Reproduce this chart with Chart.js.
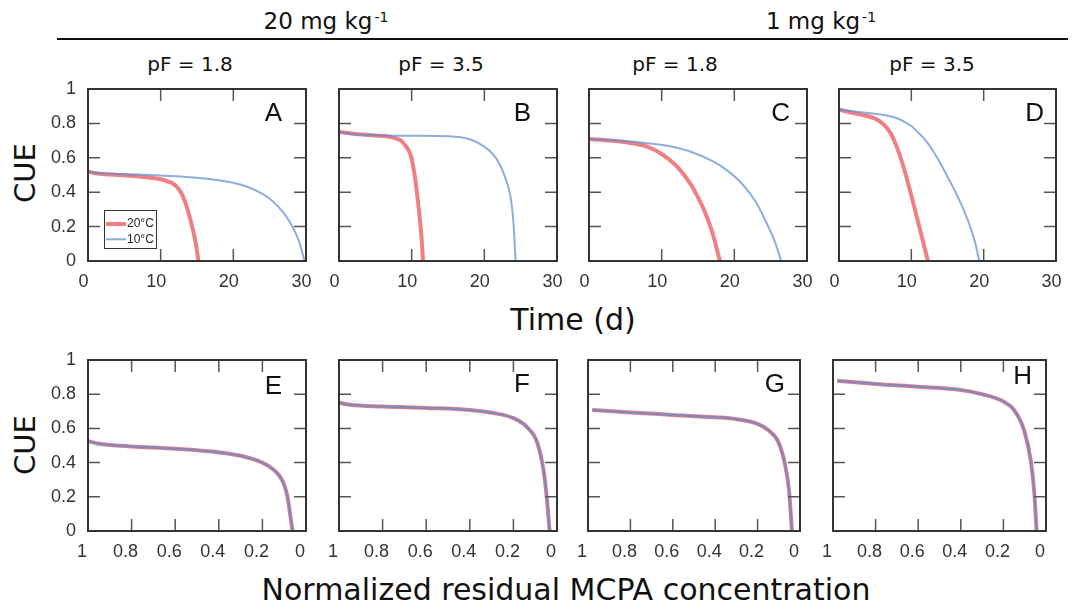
<!DOCTYPE html>
<html>
<head>
<meta charset="utf-8">
<script src="https://cdn.jsdelivr.net/npm/chart.js@4.4.1/dist/chart.umd.min.js"></script>
<style>
  body { margin: 0; background: #fff; }
  #fig { position: relative; width: 1075px; height: 610px; background: #fff; overflow: hidden;
         font-family: "DejaVu Sans", sans-serif; color: #111; }
  .txt { position: absolute; white-space: nowrap; line-height: 1; transform: translateX(-50%); }
  .rot { position: absolute; white-space: nowrap; line-height: 1; transform: translate(-50%, -50%) rotate(-90deg); }
  .sup { font-size: 14px; position: relative; top: -7px; margin-left: 2px; }
  canvas { position: absolute; }
</style>
</head>
<body>
<div id="fig">
  <div class="txt" style="left:326px; top:10px; font-size:23px;">20 mg kg<span class="sup">-1</span></div>
  <div class="txt" style="left:821px; top:10px; font-size:23px;">1 mg kg<span class="sup">-1</span></div>
  <div style="position:absolute; left:57px; top:38px; width:1011px; height:2px; background:#111;"></div>

  <div class="txt" style="left:190px; top:54px; font-size:20px;">pF = 1.8</div>
  <div class="txt" style="left:441px; top:54px; font-size:20px;">pF = 3.5</div>
  <div class="txt" style="left:675px; top:54px; font-size:20px;">pF = 1.8</div>
  <div class="txt" style="left:932px; top:54px; font-size:20px;">pF = 3.5</div>

  <div class="txt" style="left:573px; top:305px; font-size:30px;">Time (d)</div>
  <div class="txt" style="left:566px; top:575px; font-size:30px;">Normalized residual MCPA concentration</div>
  <div class="rot" style="left:25px; top:173px; font-size:29px;">CUE</div>
  <div class="rot" style="left:25px; top:445px; font-size:29px;">CUE</div>
</div>

<script>
// tick labels
const cueTicks = [0, 0.2, 0.4, 0.6, 0.8, 1];
const timeTicks = [0, 10, 20, 30];
const concTicks = [1, 0.8, 0.6, 0.4, 0.2, 0];
const seriesNames = ['20°C', '10°C'];

// top row: CUE over time (d)
const tA20 = [0, 1, 3, 6, 8, 10, 11, 11.6, 12.2, 12.8, 13.3, 13.8, 14.3, 14.8, 15.2];
const cueA20 = [0.52, 0.51, 0.503, 0.495, 0.487, 0.475, 0.462, 0.452, 0.432, 0.398, 0.35, 0.285, 0.205, 0.11, 0];
const tA10 = [0, 2, 5, 10, 14, 17, 20, 22, 24, 25.5, 27, 28, 29, 29.8];
const cueA10 = [0.52, 0.51, 0.505, 0.497, 0.487, 0.475, 0.455, 0.43, 0.39, 0.345, 0.275, 0.21, 0.12, 0];

const tB20 = [0, 2, 5, 7, 8, 8.6, 9.0, 9.5, 9.9, 10.2, 10.5, 10.8, 11.1, 11.35, 11.56];
const cueB20 = [0.75, 0.74, 0.73, 0.722, 0.71, 0.698, 0.678, 0.649, 0.61, 0.552, 0.474, 0.37, 0.255, 0.14, 0];
const tB10 = [0, 2, 6, 10, 15, 18, 20, 21.2, 22, 22.8, 23.5, 23.85, 24.1, 24.3];
const cueB10 = [0.75, 0.737, 0.73, 0.728, 0.725, 0.708, 0.665, 0.62, 0.571, 0.493, 0.396, 0.298, 0.162, 0];

const tC20 = [0, 3, 5, 8, 10, 12, 14, 15, 16, 17, 17.5, 18.0];
const cueC20 = [0.71, 0.70, 0.69, 0.665, 0.622, 0.554, 0.446, 0.37, 0.28, 0.162, 0.085, 0];
const tC10 = [0, 4, 8, 11, 14, 17, 19, 21, 23, 24.5, 25.6, 26.45];
const cueC10 = [0.71, 0.70, 0.685, 0.668, 0.635, 0.58, 0.527, 0.452, 0.34, 0.215, 0.11, 0];

const tD20 = [0, 1.5, 3, 5, 6, 7, 8, 9, 10, 11, 12.3];
const cueD20 = [0.88, 0.865, 0.851, 0.828, 0.80, 0.752, 0.662, 0.535, 0.38, 0.215, 0];
const tD10 = [0, 3, 6, 8, 9, 10, 11, 12, 13, 14, 15, 16, 17, 18, 18.8, 19.4];
const cueD10 = [0.88, 0.865, 0.85, 0.83, 0.81, 0.785, 0.745, 0.70, 0.64, 0.57, 0.49, 0.41, 0.32, 0.215, 0.11, 0];

// bottom row: CUE over normalized residual concentration (both temperatures coincide)
const concE = [1, 0.95, 0.9, 0.8, 0.6, 0.4, 0.3, 0.2, 0.15, 0.12, 0.1, 0.085, 0.073, 0.062];
const cueE = [0.525, 0.51, 0.503, 0.494, 0.481, 0.46, 0.44, 0.40, 0.36, 0.32, 0.27, 0.2, 0.1, 0];
const concF = [1, 0.95, 0.8, 0.6, 0.4, 0.29, 0.2, 0.14, 0.09, 0.06, 0.046, 0.034];
const cueF = [0.75, 0.738, 0.728, 0.72, 0.708, 0.69, 0.66, 0.61, 0.514, 0.34, 0.184, 0];
const concG = [0.98, 0.8, 0.6, 0.4, 0.3, 0.2, 0.15, 0.103, 0.072, 0.052, 0.038];
const cueG = [0.708, 0.693, 0.679, 0.665, 0.654, 0.626, 0.59, 0.523, 0.397, 0.24, 0];
const concH = [0.98, 0.8, 0.6, 0.4, 0.3, 0.2, 0.15, 0.103, 0.072, 0.056, 0.044];
const cueH = [0.879, 0.86, 0.844, 0.825, 0.80, 0.757, 0.708, 0.59, 0.416, 0.24, 0];

const RED = '#EF7F85';
const BLUE = 'rgba(90,140,205,0.7)';

// panel boxes [left, top, width, height] and letter offsets from top-right
const panels = [
  { letter: 'A', box: [88, 89, 218, 172], kind: 'time', showY: true, ldx: 24, ldy: 13, legend: true, red: [tA20, cueA20], blue: [tA10, cueA10] },
  { letter: 'B', box: [339, 89, 218, 172], kind: 'time', ldx: 26, ldy: 13, red: [tB20, cueB20], blue: [tB10, cueB10] },
  { letter: 'C', box: [589, 89, 218, 172], kind: 'time', ldx: 17, ldy: 13, red: [tC20, cueC20], blue: [tC10, cueC10] },
  { letter: 'D', box: [839, 89, 217, 172], kind: 'time', ldx: 12, ldy: 13, red: [tD20, cueD20], blue: [tD10, cueD10] },
  { letter: 'E', box: [88, 360, 218, 171], kind: 'conc', showY: true, ldx: 24, ldy: 15, red: [concE, cueE], blue: [concE, cueE] },
  { letter: 'F', box: [339, 360, 218, 171], kind: 'conc', ldx: 27, ldy: 13, red: [concF, cueF], blue: [concF, cueF] },
  { letter: 'G', box: [588, 360, 212, 171], kind: 'conc', ldx: 15, ldy: 13, red: [concG, cueG], blue: [concG, cueG] },
  { letter: 'H', box: [833, 360, 213, 171], kind: 'conc', ldx: 14, ldy: 5, red: [concH, cueH], blue: [concH, cueH] }
];

const panelDecor = {
  id: 'panelDecor',
  afterDatasetsDraw(chart, args, o) {
    const { ctx, chartArea: a } = chart;
    const xs = chart.scales.x, ys = chart.scales.y;
    ctx.save();

    // inner ticks on all four sides
    ctx.strokeStyle = '#555';
    ctx.lineWidth = 1.5;
    ctx.beginPath();
    o.xTicks.forEach(v => {
      if (v === xs.min || v === xs.max) return;
      const px = xs.getPixelForValue(v);
      ctx.moveTo(px, a.bottom); ctx.lineTo(px, a.bottom - 12);
      ctx.moveTo(px, a.top); ctx.lineTo(px, a.top + 12);
    });
    cueTicks.forEach(v => {
      if (v === ys.min || v === ys.max) return;
      const py = ys.getPixelForValue(v);
      ctx.moveTo(a.left, py); ctx.lineTo(a.left + 12, py);
      ctx.moveTo(a.right, py); ctx.lineTo(a.right - 12, py);
    });
    ctx.stroke();

    // frame
    ctx.strokeStyle = '#333';
    ctx.lineWidth = 2;
    ctx.strokeRect(a.left, a.top, a.right - a.left, a.bottom - a.top);

    // tick labels
    ctx.fillStyle = '#333';
    ctx.font = '18px "Liberation Sans", Arial, sans-serif';
    ctx.textAlign = 'center';
    ctx.textBaseline = 'middle';
    o.xTicks.forEach(v => {
      ctx.fillText(String(v), xs.getPixelForValue(v) - o.shift, a.bottom + 21);
    });
    if (o.showY) {
      ctx.textAlign = 'right';
      cueTicks.forEach(v => ctx.fillText(String(v), a.left - 12, ys.getPixelForValue(v)));
    }

    // panel letter
    ctx.fillStyle = '#111';
    ctx.font = '26px "Liberation Sans", Arial, sans-serif';
    ctx.textAlign = 'right';
    ctx.textBaseline = 'alphabetic';
    ctx.fillText(o.letter, a.right - o.ldx, a.top + o.ldy + 18.6);

    // legend box inside panel A
    if (o.legend) {
      const lx = a.left + 16, ly = a.top + 121;
      ctx.fillStyle = '#fff';
      ctx.fillRect(lx, ly, 52, 38);
      ctx.strokeStyle = '#333';
      ctx.lineWidth = 1;
      ctx.strokeRect(lx + 0.5, ly + 0.5, 52, 38);
      ctx.font = '12px "Liberation Sans", Arial, sans-serif';
      ctx.textAlign = 'left';
      ctx.textBaseline = 'middle';
      chart.data.datasets.forEach((ds, i) => {
        const yy = ly + 14 + i * 15.3;
        ctx.strokeStyle = ds.borderColor;
        ctx.lineWidth = ds.borderWidth;
        ctx.beginPath();
        ctx.moveTo(lx + 2, yy); ctx.lineTo(lx + 22, yy);
        ctx.stroke();
        ctx.fillStyle = '#222';
        ctx.fillText(ds.label, lx + 23, yy);
      });
    }
    ctx.restore();
  }
};

function toPoints(xs, ys) {
  return xs.map((x, i) => ({ x: x, y: ys[i] }));
}

const fig = document.getElementById('fig');

panels.forEach(p => {
  const [bx, by, bw, bh] = p.box;
  const pad = { left: p.showY ? 60 : 20, top: 14, right: 14, bottom: 36 };
  const canvas = document.createElement('canvas');
  canvas.width = bw + pad.left + pad.right;
  canvas.height = bh + pad.top + pad.bottom;
  canvas.style.left = (bx - pad.left) + 'px';
  canvas.style.top = (by - pad.top) + 'px';
  canvas.style.width = canvas.width + 'px';
  canvas.style.height = canvas.height + 'px';
  fig.appendChild(canvas);

  const isTime = p.kind === 'time';
  new Chart(canvas.getContext('2d'), {
    type: 'line',
    data: {
      datasets: [
        { label: seriesNames[0], data: toPoints(p.red[0], p.red[1]), borderColor: RED, borderWidth: 4, order: 2 },
        { label: seriesNames[1], data: toPoints(p.blue[0], p.blue[1]), borderColor: BLUE, borderWidth: isTime ? 2 : 2.5, order: 1 }
      ]
    },
    options: {
      responsive: false,
      animation: false,
      events: [],
      layout: { padding: pad },
      elements: {
        point: { radius: 0 },
        line: { cubicInterpolationMode: 'monotone', fill: false, borderCapStyle: 'butt' }
      },
      scales: {
        x: { type: 'linear', min: 0, max: isTime ? 30 : 1, reverse: !isTime, display: false },
        y: { type: 'linear', min: 0, max: 1, display: false }
      },
      plugins: {
        legend: { display: false },
        tooltip: { enabled: false },
        panelDecor: {
          xTicks: isTime ? timeTicks : concTicks,
          shift: isTime ? 4.5 : 6,
          showY: !!p.showY,
          letter: p.letter,
          ldx: p.ldx,
          ldy: p.ldy,
          legend: !!p.legend
        }
      }
    },
    plugins: [panelDecor]
  });
});
</script>
</body>
</html>
